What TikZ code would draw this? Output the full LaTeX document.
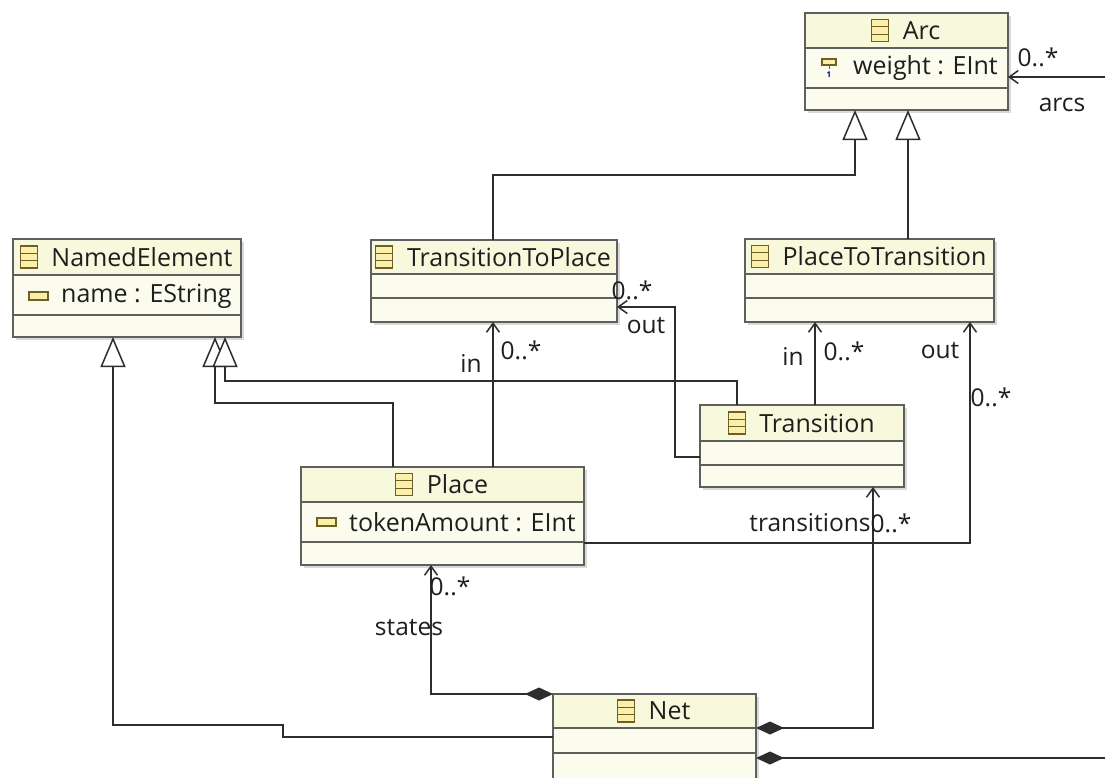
\documentclass[tikz,border=0pt]{standalone}
\usepackage{fontspec}
\setmainfont{Open Sans}
\usetikzlibrary{arrows.meta,calc}
\definecolor{headfill}{RGB}{248,248,221}
\definecolor{bodyfill}{RGB}{252,252,238}
\definecolor{boxcol}{RGB}{95,95,95}
\definecolor{linecol}{RGB}{45,45,45}
\definecolor{iconcol}{RGB}{110,95,40}
\definecolor{iconfill}{RGB}{250,240,170}
\definecolor{txtcol}{RGB}{30,30,30}
\tikzset{
  conn/.style={draw=linecol, line width=1.5pt},
  gen/.style={conn, -{Triangle[open, length=30pt, width=25pt, fill=white]}},
  nav/.style={conn, -{Straight Barb[length=9pt, width=13pt]}},
  comp/.style={conn, {Diamond[length=28pt, width=13pt, fill=linecol]}-},
  compnav/.style={conn, {Diamond[length=28pt, width=13pt, fill=linecol]}-{Straight Barb[length=9pt, width=13pt]}},
  lbl/.style={text=txtcol, font=\fontsize{24.5}{28}\selectfont, inner sep=0pt},
  ttl/.style={text=txtcol, font=\fontsize{25}{29}\selectfont, inner sep=0pt},
  attr/.style={text=txtcol, font=\fontsize{25}{29}\selectfont, inner sep=0pt, anchor=west},
  boxline/.style={draw=boxcol, line width=1.2pt},
  iconst/.style={draw=iconcol, line width=1.1pt, fill=iconfill},
}
% #1 name, #2 left, #3 top, #4 right, #5 sep1, #6 sep2, #7 bottom, #8 title
\newcommand\umlbox[8]{%
  \fill[black!15] (#2+3,#3+3) rectangle (#4+3,#7+3);
  \fill[bodyfill] (#2,#3) rectangle (#4,#7);
  \fill[headfill] (#2,#3) rectangle (#4,#5);
  \draw[boxline] (#2,#5) -- (#4,#5) (#2,#6) -- (#4,#6);
  \node[boxline, inner sep=0pt, outer sep=0pt, minimum width={#4-#2}, minimum height={#7-#3}, anchor=north west] (#1) at (#2,#3) {};
  \node[ttl] (#1-t) at ({(#2+#4)/2+15},{(#3+#5)/2}) {#8};
  \draw[iconst] let \p1=(#1-t.west) in (\x1-31pt,\y1-11pt) rectangle (\x1-14pt,\y1+11pt);
  \draw[iconcol, line width=1.1pt] let \p1=(#1-t.west) in
     (\x1-31pt,\y1+3.7pt) -- (\x1-14pt,\y1+3.7pt)
     (\x1-31pt,\y1-3.7pt) -- (\x1-14pt,\y1-3.7pt);
}
% #1 name, #2 left, #3 mid y, #4 text
\newcommand\umlattr[4]{%
  \draw[iconst] (#2+16,#3-4) rectangle (#2+35,#3+4);
  \node[attr] (#1) at (#2+48,#3) {#4};
}
\begin{document}
\begin{tikzpicture}[x=1pt,y=-1pt]
\useasboundingbox (0,0) rectangle (1105,777);
\fill[white] (0,0) rectangle (1105,777);

% classes
\umlbox{arc}{805}{13}{1008}{48}{88}{110}{Arc}
\draw[iconst] (822,59) rectangle (836,65);
\draw[iconcol, line width=1pt] (829,65) -- (829,69);
\node[text=blue!60!black, font=\fontsize{8}{9}\selectfont\bfseries, inner sep=0pt] (arc-one) at (829,75) {1};
\node[attr] (arc-a) at (853,68) {weight : EInt};

\umlbox{ne}{13}{239}{241}{275}{315}{337}{NamedElement}
\umlattr{ne-a}{13}{296}{name : EString}

\umlbox{ttp}{371}{240}{617}{274}{298}{322}{TransitionToPlace}
\umlbox{ptt}{745}{239}{994}{274}{298}{322}{PlaceToTransition}
\umlbox{trans}{700}{405}{904}{441}{465}{487}{Transition}
\umlbox{place}{301}{467}{584}{502}{542}{565}{Place}
\umlattr{place-a}{301}{522}{tokenAmount : EInt}
\umlbox{net}{553}{694}{756}{728}{753}{792}{Net}

% bend points
\coordinate (g1a) at (493,175);
\coordinate (g1b) at (855,175);
\coordinate (g2) at (908,175);
\coordinate (g3a) at (393,403);
\coordinate (g3b) at (215,403);
\coordinate (g4a) at (737,381);
\coordinate (g4b) at (225,381);
\coordinate (g5a) at (283,737);
\coordinate (g5b) at (283,725);
\coordinate (g5c) at (113,725);
\coordinate (f1) at (493,0);
\coordinate (o1) at (675,457);
\coordinate (o2) at (675,307);
\coordinate (h1) at (815,0);
\coordinate (i1) at (970,543);
\coordinate (j1) at (873,728);
\coordinate (k1) at (431,694);
\coordinate (arcsout) at (1105,758);
\coordinate (arcsin) at (1105,77);

% generalizations
\draw[gen] (ttp.north -| g1a) -- (g1a) -- (g1b) -- (arc.south -| g1b);
\draw[gen] (ptt.north -| g2) -- (arc.south -| g2);
\draw[gen] (net.west |- g5a) -- (g5a) -- (g5b) -- (g5c) -- (ne.south -| g5c);
\draw[gen] (place.north -| g3a) -- (g3a) -- (g3b) -- (ne.south -| g3b);
\draw[gen] (trans.north -| g4a) -- (g4a) -- (g4b) -- (ne.south -| g4b);

% references
\draw[nav] (place.north -| f1) -- (ttp.south -| f1);
\draw[nav] (trans.west |- o1) -- (o1) -- (o2) -- (ttp.east |- o2);
\draw[nav] (trans.north -| h1) -- (ptt.south -| h1);
\draw[nav] (place.east |- i1) -- (i1) -- (ptt.south -| i1);
\draw[compnav] (net.east |- j1) -- (j1) -- (trans.south -| j1);
\draw[compnav] (net.north west) -- (k1) -- (place.south -| k1);
\draw[comp] (net.east |- arcsout) -- (arcsout);
\draw[nav] (arcsin) -- (arc.east |- arcsin);

% labels
\node[lbl] (l-in1) at (471,364) {in};
\node[lbl] (l-m1) at (521,350) {0..*};
\node[lbl] (l-m2) at (632,290) {0..*};
\node[lbl] (l-out1) at (646,326) {out};
\node[lbl] (l-in2) at (793,357) {in};
\node[lbl] (l-m3) at (844,351) {0..*};
\node[lbl] (l-out2) at (940,351) {out};
\node[lbl] (l-m4) at (991,397) {0..*};
\node[lbl] (l-tr) at (810,523) {transitions};
\node[lbl] (l-m5) at (891,523) {0..*};
\node[lbl] (l-m6) at (450,586) {0..*};
\node[lbl] (l-st) at (409,628) {states};
\node[lbl] (l-m7) at (1038,57) {0..*};
\node[lbl] (l-arcs) at (1062,105) {arcs};
\end{tikzpicture}
\end{document}
